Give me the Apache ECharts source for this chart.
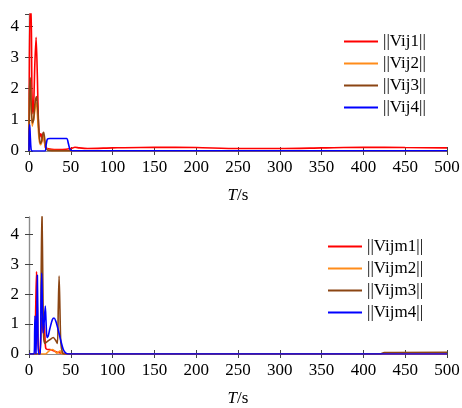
<!DOCTYPE html>
<html>
<head>
<meta charset="utf-8">
<script src="https://cdn.jsdelivr.net/npm/echarts@6/dist/echarts.min.js"></script>
<style>
  html, body { margin: 0; padding: 0; background: #fff; }
  #chart { width: 462px; height: 408px; }
</style>
</head>
<body>
<div id="chart"></div>
<script>
// x tick labels (T/s)
const xTicks = [0, 50, 100, 150, 200, 250, 300, 350, 400, 450, 500];

// upper panel: ||Vij|| , pairs of [T, value]
const vij1 = [[0,0],[0.5,3.0],[1.5,4.6],[2.5,4.6],[3.5,2.0],[4.5,1.2],[5.5,1.4],[7,2.8],[8.5,3.65],[10,2.4],[11,1.2],[12,0.6],[13,0.45],[14,0.55],[15,0.5],[16,0.35],[17,0.45],[18,0.4],[19,0.2],[20,0.1],[25,0.06],[30,0.05],[40,0.05],[50,0.08],[55,0.12],[60,0.1],[70,0.08],[100,0.1],[150,0.12],[200,0.11],[250,0.08],[300,0.08],[350,0.1],[400,0.12],[450,0.11],[500,0.1]];
const vij2 = [[0,0],[0.5,1.5],[1.5,2.1],[2.5,1.4],[4,0.8],[6,1.1],[8,1.5],[9,1.55],[10,1.2],[12,0.4],[14,0.2],[16,0.35],[17,0.5],[18,0.4],[20,0.1],[25,0.02],[50,0.01],[500,0.01]];
const vij3 = [[0,0],[0.5,1.8],[1.5,2.35],[2.5,1.6],[4,0.9],[5.5,1.0],[7,1.5],[9,1.75],[10.5,1.3],[12,0.6],[13.5,0.25],[15,0.3],[16.5,0.55],[17.5,0.6],[18.5,0.45],[20,0.15],[22,0.03],[30,0.01],[500,0.01]];
const vij4 = [[0,0],[0.3,0.6],[0.8,0.85],[1.5,0.5],[2.5,0.05],[4,0],[19,0],[20.5,0.2],[22,0.38],[25,0.4],[45,0.4],[47,0.25],[49,0.05],[52,0.01],[500,0.01]];

// lower panel: ||Vijm||
const vijm1 = [[0,0],[7,0],[8,1.5],[9,2.75],[10,1.5],[11,0.3],[12,0.05],[13,0],[14,0.5],[15,1.2],[16,1.0],[17,0.7],[18,1.0],[19,0.6],[20,0.2],[22,0.15],[25,0.15],[30,0.1],[35,0.05],[40,0.02],[45,0.01],[50,0],[500,0]];
const vijm2 = [[0,0],[20,0],[22,0.05],[25,0.12],[28,0.15],[31,0.1],[33,0.03],[35,0.05],[37,0.1],[38,0.1],[39,0.02],[42,0],[500,0]];
const vijm3 = [[0,0],[13,0],[14.5,2.5],[15.5,4.8],[16.5,2.5],[17.5,0.6],[19,0.35],[21,0.4],[25,0.48],[29,0.55],[32,0.45],[34,0.35],[35,1.5],[36,2.6],[37,1.5],[38,0.4],[40,0.05],[42,0],[420,0],[425,0.05],[500,0.06]];
const vijm4 = [[0,0],[6,0],[6.8,0.8],[7.2,1.27],[7.8,0.6],[8.3,0],[9,0],[9.5,1.5],[10,2.63],[10.6,1.2],[11.3,0],[13.5,0],[14.3,1.5],[15.2,2.7],[16,1.6],[17,0.7],[18,1.0],[19.5,1.6],[20.5,1.0],[21.5,0.55],[23,0.6],[25,0.85],[28,1.15],[30,1.2],[32,1.1],[35,0.8],[38,0.45],[41,0.15],[44,0.03],[47,0],[500,0]];

const names1 = ['||Vij1||', '||Vij2||', '||Vij3||', '||Vij4||'];
const names2 = ['||Vijm1||', '||Vijm2||', '||Vijm3||', '||Vijm4||'];
const colors = ['#ff0000', '#ff8c1a', '#8b4513', '#0000ff'];

const font = "'Liberation Serif', 'Times New Roman', serif";
const axisGrey = '#8c8c8c';

function xAxes(gridIndex) {
  return [
    {
      type: 'value', gridIndex, position: 'bottom', min: 0, max: 500, interval: 50,
      axisLine: { lineStyle: { color: axisGrey, width: 1.2 } },
      axisTick: { inside: true, length: 4, lineStyle: { color: '#444' } },
      axisLabel: { color: '#000', fontSize: 17, fontFamily: font, margin: 8,
        formatter: v => xTicks.includes(v) ? String(v) : '' },
      splitLine: { show: false },
      name: '{i|T}/s', nameLocation: 'middle', nameGap: 36,
      nameTextStyle: { color: '#000', fontSize: 17, fontFamily: font,
        rich: { i: { fontStyle: 'italic', fontSize: 17, fontFamily: font, color: '#000' } } }
    },
    {
      type: 'value', gridIndex, position: 'top', min: 0, max: 500, interval: 50,
      axisLine: { lineStyle: { color: axisGrey, width: 1.2 } },
      axisTick: { inside: true, length: 4, lineStyle: { color: '#444' } },
      axisLabel: { show: false }, splitLine: { show: false }
    }
  ];
}

function yAxes(gridIndex, max) {
  return [
    {
      type: 'value', gridIndex, position: 'left', min: 0, max: max, interval: 1,
      axisLine: { show: true, lineStyle: { color: axisGrey, width: 1.2 } },
      axisTick: { show: true, inside: true, length: 4, lineStyle: { color: '#444' } },
      axisLabel: { color: '#000', fontSize: 17, fontFamily: font, margin: 10, showMaxLabel: false },
      splitLine: { show: false }
    },
    {
      type: 'value', gridIndex, position: 'right', min: 0, max: max, interval: 1,
      axisLine: { show: true, lineStyle: { color: axisGrey, width: 1.2 } },
      axisTick: { show: true, inside: true, length: 4, lineStyle: { color: '#444' } },
      axisLabel: { show: false }, splitLine: { show: false }
    }
  ];
}

function lineSeries(name, data, color, idx) {
  return {
    name, type: 'line', data, showSymbol: false, symbol: 'none',
    xAxisIndex: idx * 2, yAxisIndex: idx * 2,
    lineStyle: { color, width: 1.6 }, itemStyle: { color },
    smooth: 0.25, clip: true, animation: false
  };
}

const legendText = { color: '#000', fontSize: 17, fontFamily: font, lineHeight: 17 };

const chart = echarts.init(document.getElementById('chart'));
chart.setOption({
  animation: false,
  grid: [
    { left: 29, right: 15, top: 14, height: 137, outerBoundsMode: 'none' },
    { left: 29, right: 15, top: 217, height: 137, outerBoundsMode: 'none' }
  ],
  xAxis: [...xAxes(0), ...xAxes(1)],
  yAxis: [...yAxes(0, 4.4), ...yAxes(1, 4.57)],
  legend: [
    { data: names1, orient: 'vertical', left: 339, top: 28, itemWidth: 34, itemHeight: 2,
      icon: 'rect', itemGap: 5, textStyle: legendText, selectedMode: false },
    { data: names2, orient: 'vertical', left: 323, top: 233, itemWidth: 34, itemHeight: 2,
      icon: 'rect', itemGap: 5, textStyle: legendText, selectedMode: false }
  ],
  series: [
    lineSeries(names1[0], vij1, colors[0], 0),
    lineSeries(names1[1], vij2, colors[1], 0),
    lineSeries(names1[2], vij3, colors[2], 0),
    lineSeries(names1[3], vij4, colors[3], 0),
    lineSeries(names2[0], vijm1, colors[0], 1),
    lineSeries(names2[1], vijm2, colors[1], 1),
    lineSeries(names2[2], vijm3, colors[2], 1),
    lineSeries(names2[3], vijm4, colors[3], 1)
  ]
});
</script>
</body>
</html>
